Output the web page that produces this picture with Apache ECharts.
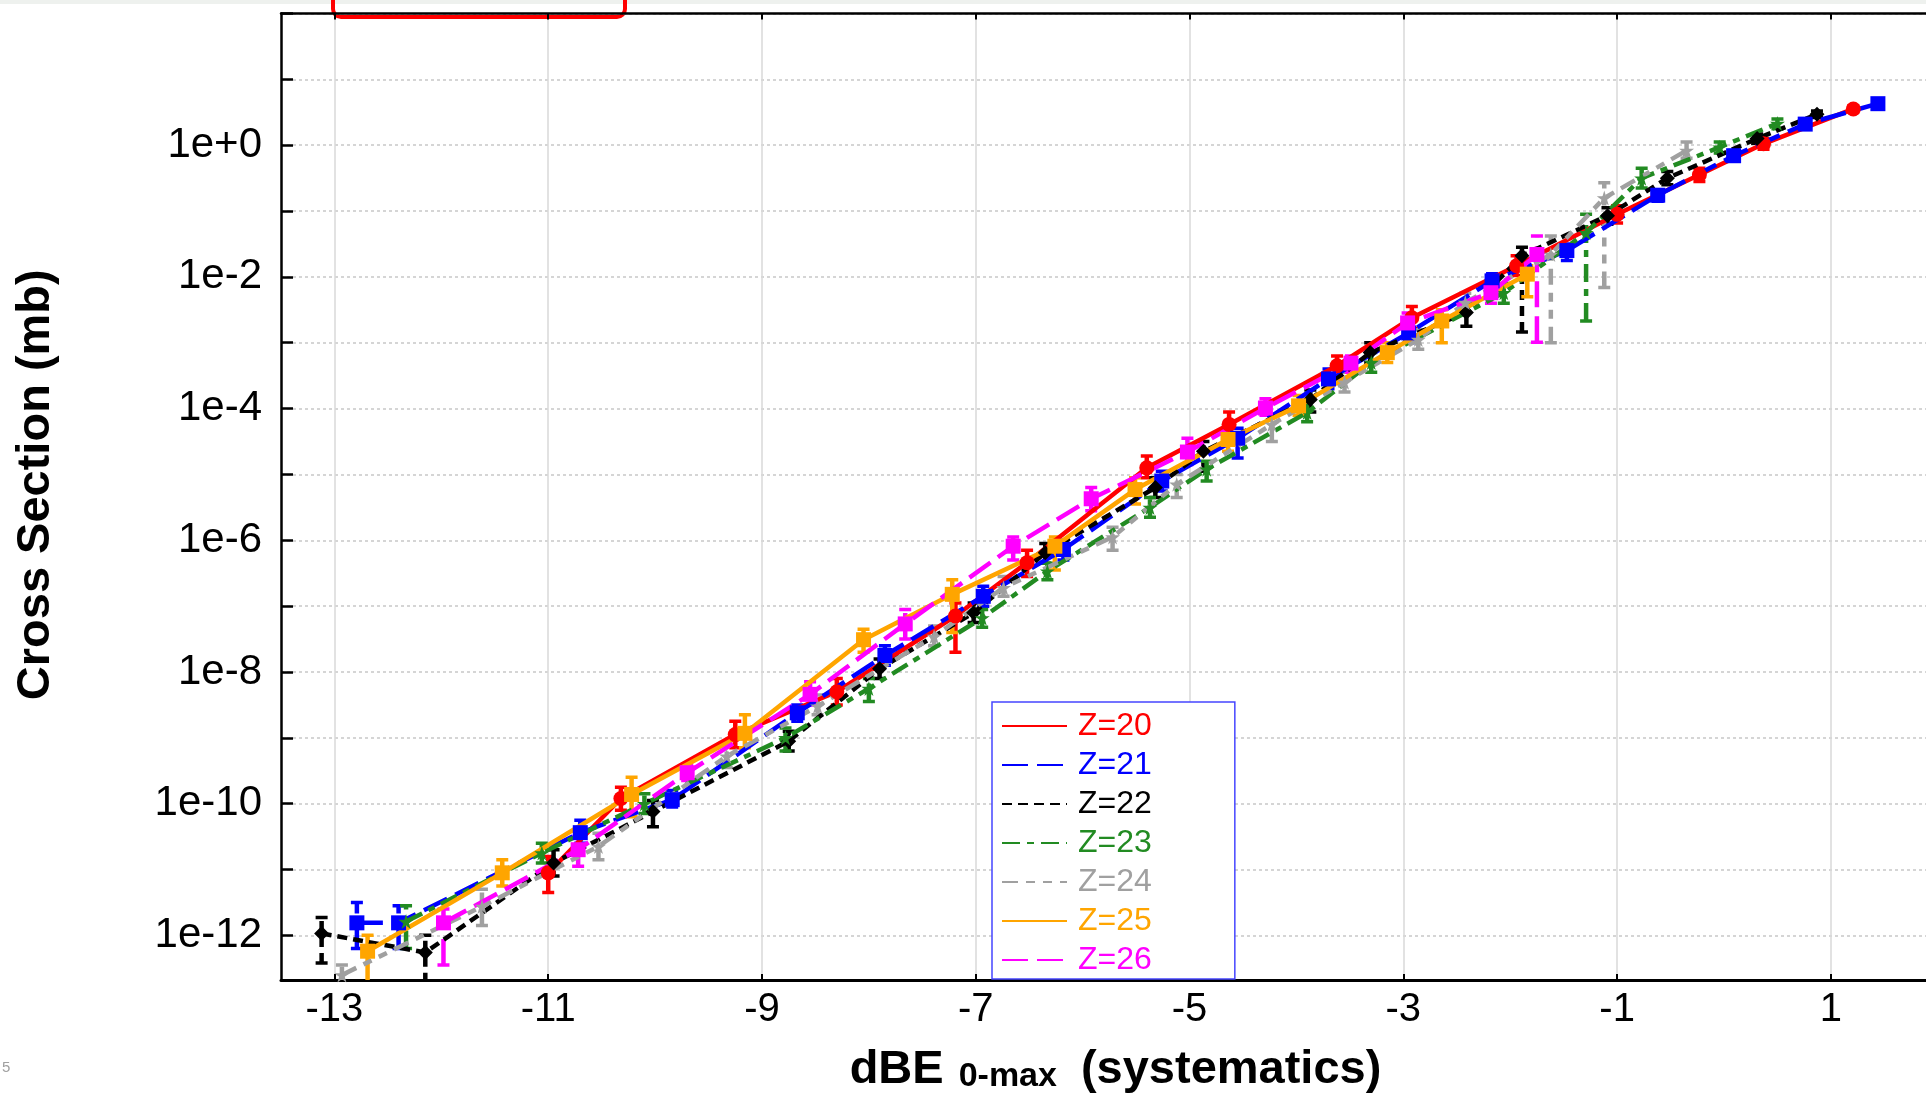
<!DOCTYPE html>
<html>
<head>
<meta charset="UTF-8">
<title>Cross Section vs dBE</title>
<script src="https://cdn.jsdelivr.net/npm/echarts@6.0.0/dist/echarts.min.js"></script>
<style>
  html, body { margin: 0; padding: 0; background: #fff; }
  #chart { width: 1926px; height: 1094px; }
</style>
</head>
<body>
<div id="chart"></div>
<script>
// each point: [dBE, cross section (mb), error low, error high]
var z20 = [
  [-11.0, 8.91e-12, 4.47e-12, 1.58e-11], [-10.32, 1.20e-10, 7.94e-11, 1.78e-10],
  [-9.25, 1.12e-9, 7.08e-10, 1.78e-9], [-8.3, 5.01e-9, 3.16e-9, 7.94e-9],
  [-7.19, 7.08e-8, 2.0e-8, 1.12e-7], [-6.52, 4.57e-7, 2.82e-7, 7.08e-7],
  [-5.40, 1.26e-5, 8.91e-6, 1.91e-5], [-4.63, 5.75e-5, 3.98e-5, 8.91e-5],
  [-3.62, 4.47e-4, 3.16e-4, 6.31e-4], [-2.92, 2.40e-3, 1.66e-3, 3.55e-3],
  [-1.94, 1.48e-2, 1.05e-2, 2.09e-2], [-1.0, 8.91e-2, 6.61e-2, 0.120],
  [-0.23, 0.355, 0.282, 0.447], [0.37, 1.05, 0.871, 1.26], [1.21, 3.55, 3.16, 3.98]
];
var z21 = [
  [-12.79, 1.55e-12, 6.31e-13, 3.16e-12], [-12.40, 1.55e-12, 6.31e-13, 2.82e-12],
  [-10.70, 3.63e-11, 2.51e-11, 5.62e-11], [-9.84, 1.15e-10, 8.91e-11, 1.58e-10],
  [-8.67, 2.40e-9, 1.78e-9, 3.16e-9], [-7.85, 1.78e-8, 1.26e-8, 2.51e-8],
  [-6.93, 1.41e-7, 1.0e-7, 2.0e-7], [-6.18, 7.24e-7, 5.01e-7, 1.0e-6],
  [-5.26, 7.94e-6, 5.62e-6, 1.12e-5], [-4.55, 3.55e-5, 1.78e-5, 5.01e-5],
  [-3.70, 2.82e-4, 2.0e-4, 3.98e-4], [-2.95, 1.41e-3, 1.0e-3, 2.0e-3],
  [-2.17, 8.71e-3, 5.01e-3, 1.12e-2], [-1.47, 2.51e-2, 1.78e-2, 3.16e-2],
  [-0.62, 0.174, 0.141, 0.209], [0.09, 0.692, 0.575, 0.832],
  [0.76, 2.09, 1.82, 2.40], [1.44, 4.27, 3.98, 4.68]
];
var z22 = [
  [-13.12, 1.07e-12, 3.80e-13, 1.86e-12], [-12.15, 5.50e-13, 1.91e-13, 1.0e-12],
  [-10.95, 1.26e-11, 7.94e-12, 2.0e-11], [-10.02, 7.59e-11, 4.47e-11, 1.12e-10],
  [-8.75, 8.91e-10, 6.31e-10, 1.26e-9], [-7.9, 1.12e-8, 7.94e-9, 1.58e-8],
  [-7.02, 7.94e-8, 5.62e-8, 1.12e-7], [-6.35, 6.46e-7, 4.47e-7, 8.91e-7],
  [-5.32, 6.31e-6, 4.47e-6, 8.91e-6], [-4.87, 2.24e-5, 1.12e-5, 3.16e-5],
  [-3.87, 1.38e-4, 8.91e-5, 1.91e-4], [-3.31, 7.08e-4, 5.01e-4, 1.0e-3],
  [-2.41, 2.88e-3, 1.78e-3, 3.98e-3], [-1.89, 2.09e-2, 1.45e-3, 2.82e-2],
  [-1.09, 8.51e-2, 6.31e-2, 0.112], [-0.53, 0.316, 0.251, 0.398],
  [0.31, 1.26, 1.07, 1.48], [0.87, 2.95, 2.63, 3.31]
];
var z23 = [
  [-12.33, 1.62e-12, 6.31e-13, 2.82e-12], [-11.06, 1.78e-11, 1.26e-11, 2.51e-11],
  [-10.1, 1.0e-10, 7.08e-11, 1.41e-10], [-8.78, 1.0e-9, 6.31e-10, 1.41e-9],
  [-8.0, 5.62e-9, 3.55e-9, 7.94e-9], [-6.94, 6.61e-8, 4.79e-8, 8.91e-8],
  [-6.33, 3.39e-7, 2.51e-7, 4.47e-7], [-5.37, 3.16e-6, 2.24e-6, 4.47e-6],
  [-4.84, 1.20e-5, 7.94e-6, 1.58e-5], [-3.90, 8.71e-5, 6.31e-5, 1.26e-4],
  [-3.3, 5.01e-4, 3.55e-4, 7.08e-4], [-2.06, 5.75e-3, 3.98e-3, 7.94e-3],
  [-1.29, 4.68e-2, 2.14e-3, 8.91e-2], [-0.77, 0.316, 0.224, 0.447],
  [-0.04, 0.933, 0.759, 1.12], [0.50, 2.14, 1.78, 2.51]
];
var z24 = [
  [-12.93, 2.51e-13, 1.91e-13, 3.55e-13], [-11.62, 2.75e-12, 1.41e-12, 5.01e-12],
  [-10.53, 2.24e-11, 1.41e-11, 3.55e-11], [-9.33, 5.25e-10, 3.55e-10, 7.94e-10],
  [-8.48, 3.02e-9, 2.24e-9, 4.47e-9], [-7.39, 3.47e-8, 2.51e-8, 5.01e-8],
  [-6.74, 1.91e-7, 1.41e-7, 2.82e-7], [-5.72, 1.12e-6, 7.08e-7, 1.58e-6],
  [-5.12, 7.08e-6, 4.47e-6, 1.0e-5], [-4.23, 5.75e-5, 3.16e-5, 7.94e-5],
  [-3.55, 2.51e-4, 1.78e-4, 3.55e-4], [-2.86, 1.12e-3, 7.94e-4, 1.58e-3],
  [-2.42, 4.07e-3, 2.82e-3, 5.62e-3], [-1.62, 2.19e-2, 1.0e-3, 4.17e-2],
  [-1.12, 0.158, 6.92e-3, 0.269], [-0.35, 0.832, 0.631, 1.12]
];
var z25 = [
  [-12.69, 5.75e-13, 1.91e-13, 1.0e-12], [-11.43, 8.91e-12, 5.62e-12, 1.41e-11],
  [-10.22, 1.38e-10, 6.31e-11, 2.51e-10], [-9.16, 1.17e-9, 7.08e-10, 2.24e-9],
  [-8.05, 3.09e-8, 2.0e-8, 4.47e-8], [-7.22, 1.51e-7, 3.98e-8, 2.51e-7],
  [-6.26, 8.13e-7, 3.55e-7, 1.12e-6], [-5.51, 5.89e-6, 3.55e-6, 8.91e-6],
  [-4.64, 3.39e-5, 2.24e-5, 5.01e-5], [-3.98, 1.10e-4, 7.94e-5, 1.58e-4],
  [-3.15, 7.08e-4, 5.01e-4, 1.0e-3], [-2.64, 2.14e-3, 1.0e-3, 3.16e-3],
  [-1.84, 1.10e-2, 5.01e-3, 1.48e-2]
];
var z26 = [
  [-11.98, 1.55e-12, 3.55e-13, 2.51e-12], [-10.72, 2.0e-11, 1.12e-11, 3.16e-11],
  [-9.70, 2.95e-10, 2.24e-10, 3.98e-10], [-8.55, 4.57e-9, 3.16e-9, 7.08e-9],
  [-7.66, 5.37e-8, 3.16e-8, 8.91e-8], [-6.65, 8.13e-7, 5.01e-7, 1.12e-6],
  [-5.92, 4.27e-6, 2.82e-6, 6.31e-6], [-5.02, 2.19e-5, 1.41e-5, 3.55e-5],
  [-4.29, 1.02e-4, 7.94e-5, 1.41e-4], [-3.49, 4.90e-4, 3.55e-4, 6.31e-4],
  [-2.96, 2.0e-3, 1.41e-3, 2.82e-3], [-2.18, 5.75e-3, 3.98e-3, 7.94e-3],
  [-1.75, 2.19e-2, 1.02e-3, 4.17e-2]
];

var seriesNames = ['Z=20', 'Z=21', 'Z=22', 'Z=23', 'Z=24', 'Z=25', 'Z=26'];
var xTicks = [-13, -11, -9, -7, -5, -3, -1, 1];
var yTicks = [1e-12, 1e-11, 1e-10, 1e-9, 1e-8, 1e-7, 1e-6, 1e-5, 1e-4, 1e-3, 1e-2, 1e-1, 1e0, 1e1, 1e2];
var yLabels = [1e-12, 1e-10, 1e-8, 1e-6, 1e-4, 1e-2, 1e0];

var allData = [z20, z21, z22, z23, z24, z25, z26];
var colors = ['#ff0000', '#0000ff', '#000000', '#228b22', '#a0a0a0', '#ffa500', '#ff00ff'];
var dashes = ['solid', [26, 9], [10, 6], [18, 7, 7, 7], [16, 8, 9, 8, 9, 8], 'solid', [26, 9]];
var star = 'path://M50,0L61,35L98,35L68,57L79,91L50,70L21,91L32,57L2,35L39,35Z';
var symbols = ['circle', 'rect', 'diamond', star, star, 'rect', 'rect'];

var FONT = 'Liberation Sans, Arial, sans-serif';

function powLabel(v) {
    var e = Math.round(Math.log10(v));
    return '1e' + (e >= 0 ? '+' : '') + e;
}

function errRender(color, dash) {
    return function (params, api) {
        var x = api.value(0);
        var lo = api.coord([x, api.value(2)]);
        var hi = api.coord([x, api.value(3)]);
        var cap = 6;
        return {
            type: 'group',
            children: [
                { type: 'line', shape: { x1: lo[0], y1: lo[1], x2: hi[0], y2: hi[1] },
                  style: { stroke: color, lineWidth: 4.5, lineDash: dash === 'solid' ? null : dash } },
                { type: 'line', shape: { x1: lo[0] - cap, y1: lo[1], x2: lo[0] + cap, y2: lo[1] },
                  style: { stroke: color, lineWidth: 3.5 } },
                { type: 'line', shape: { x1: hi[0] - cap, y1: hi[1], x2: hi[0] + cap, y2: hi[1] },
                  style: { stroke: color, lineWidth: 3.5 } }
            ]
        };
    };
}

var series = [];
allData.forEach(function (d, i) {
    series.push({
        name: 'err' + i,
        type: 'custom',
        clip: true,
        renderItem: errRender(colors[i], dashes[i]),
        encode: { x: 0, y: 1 },
        data: d,
        silent: true
    });
    series.push({
        name: seriesNames[i],
        type: 'line',
        data: d.map(function (p) { return [p[0], p[1]]; }),
        symbol: symbols[i],
        symbolSize: 15,
        showSymbol: true,
        clip: true,
        itemStyle: { color: colors[i] },
        lineStyle: { color: colors[i], width: 4.5, type: dashes[i] }
    });
});

var myChart = echarts.init(document.getElementById('chart'));

var option = {
    animation: false,
    backgroundColor: '#ffffff',
    grid: { left: 281, top: 13.5, right: 0, bottom: 114, containLabel: false, outerBoundsMode: 'none' },
    xAxis: [{
        type: 'value',
        min: -13.5,
        max: 1.89,
        axisLine: { show: true, onZero: false, lineStyle: { color: '#000', width: 3 } },
        axisTick: { show: true, inside: true, length: 6, customValues: xTicks, lineStyle: { color: '#000', width: 2 } },
        axisLabel: { customValues: xTicks, fontFamily: FONT, fontSize: 40, color: '#000', margin: 10 },
        splitLine: { show: true, lineStyle: { color: '#d8d8d8', width: 1.5 } },
        name: '{a|dBE}{b|0-max}{a|(systematics)}',
        nameLocation: 'middle',
        nameGap: 64,
        nameTextStyle: {
            padding: [0, 0, 0, 24],
            rich: {
                a: { fontFamily: FONT, fontSize: 47, fontWeight: 'bold', color: '#000', lineHeight: 50, verticalAlign: 'bottom' },
                b: { fontFamily: FONT, fontSize: 34, fontWeight: 'bold', color: '#000', lineHeight: 34, verticalAlign: 'bottom', padding: [0, 24, 0, 15] }
            }
        }
    }, {
        type: 'value',
        position: 'top',
        min: -13.5,
        max: 1.89,
        axisLine: { show: true, onZero: false, lineStyle: { color: '#000', width: 2.5 } },
        axisTick: { show: true, inside: true, length: 6, customValues: xTicks, lineStyle: { color: '#000', width: 2 } },
        axisLabel: { show: false },
        splitLine: { show: false }
    }],
    yAxis: {
        type: 'log',
        min: 2.1e-13,
        max: 100,
        axisLine: { show: true, onZero: false, lineStyle: { color: '#000', width: 2.5 } },
        axisTick: { show: true, inside: true, length: 12, customValues: yTicks, lineStyle: { color: '#000', width: 2.5 } },
        axisLabel: { customValues: yLabels, formatter: powLabel, fontFamily: FONT, fontSize: 42, color: '#000', margin: 19 },
        splitLine: { show: true, lineStyle: { color: '#c8c8c8', width: 1.5, type: [3, 3] } },
        name: 'Cross Section (mb)',
        nameLocation: 'middle',
        nameRotate: 90,
        nameGap: 221,
        nameTextStyle: { fontFamily: FONT, fontSize: 47, fontWeight: 'bold', color: '#000', lineHeight: 47, padding: [0, 0, 0, 24] }
    },
    legend: {
        orient: 'vertical',
        left: 992,
        top: 702,
        padding: [8, 83, 3, 9],
        backgroundColor: '#ffffff',
        borderColor: '#4646ff',
        borderWidth: 1.5,
        itemWidth: 65,
        itemHeight: 14,
        itemGap: 7,
        selectedMode: false,
        itemStyle: { opacity: 0 },
        textStyle: { fontFamily: FONT, fontSize: 32, lineHeight: 32, padding: [0, 0, 0, 6] },
        data: seriesNames.map(function (n, i) {
            return { name: n, textStyle: { color: colors[i] } };
        })
    },
    graphic: [
        { type: 'rect', left: 0, top: 0, shape: { width: 1926, height: 4 }, style: { fill: '#eef1ee' } },
        { type: 'rect', shape: { x: 333, y: -20, width: 292, height: 37, r: 8 },
          style: { fill: null, stroke: '#ff0000', lineWidth: 4 } },
        { type: 'text', left: 2, top: 1060, style: { text: '5', fontFamily: FONT, fontSize: 15, fill: '#a0a0a0' } }
    ],
    series: series
};

myChart.setOption(option);
</script>
</body>
</html>
